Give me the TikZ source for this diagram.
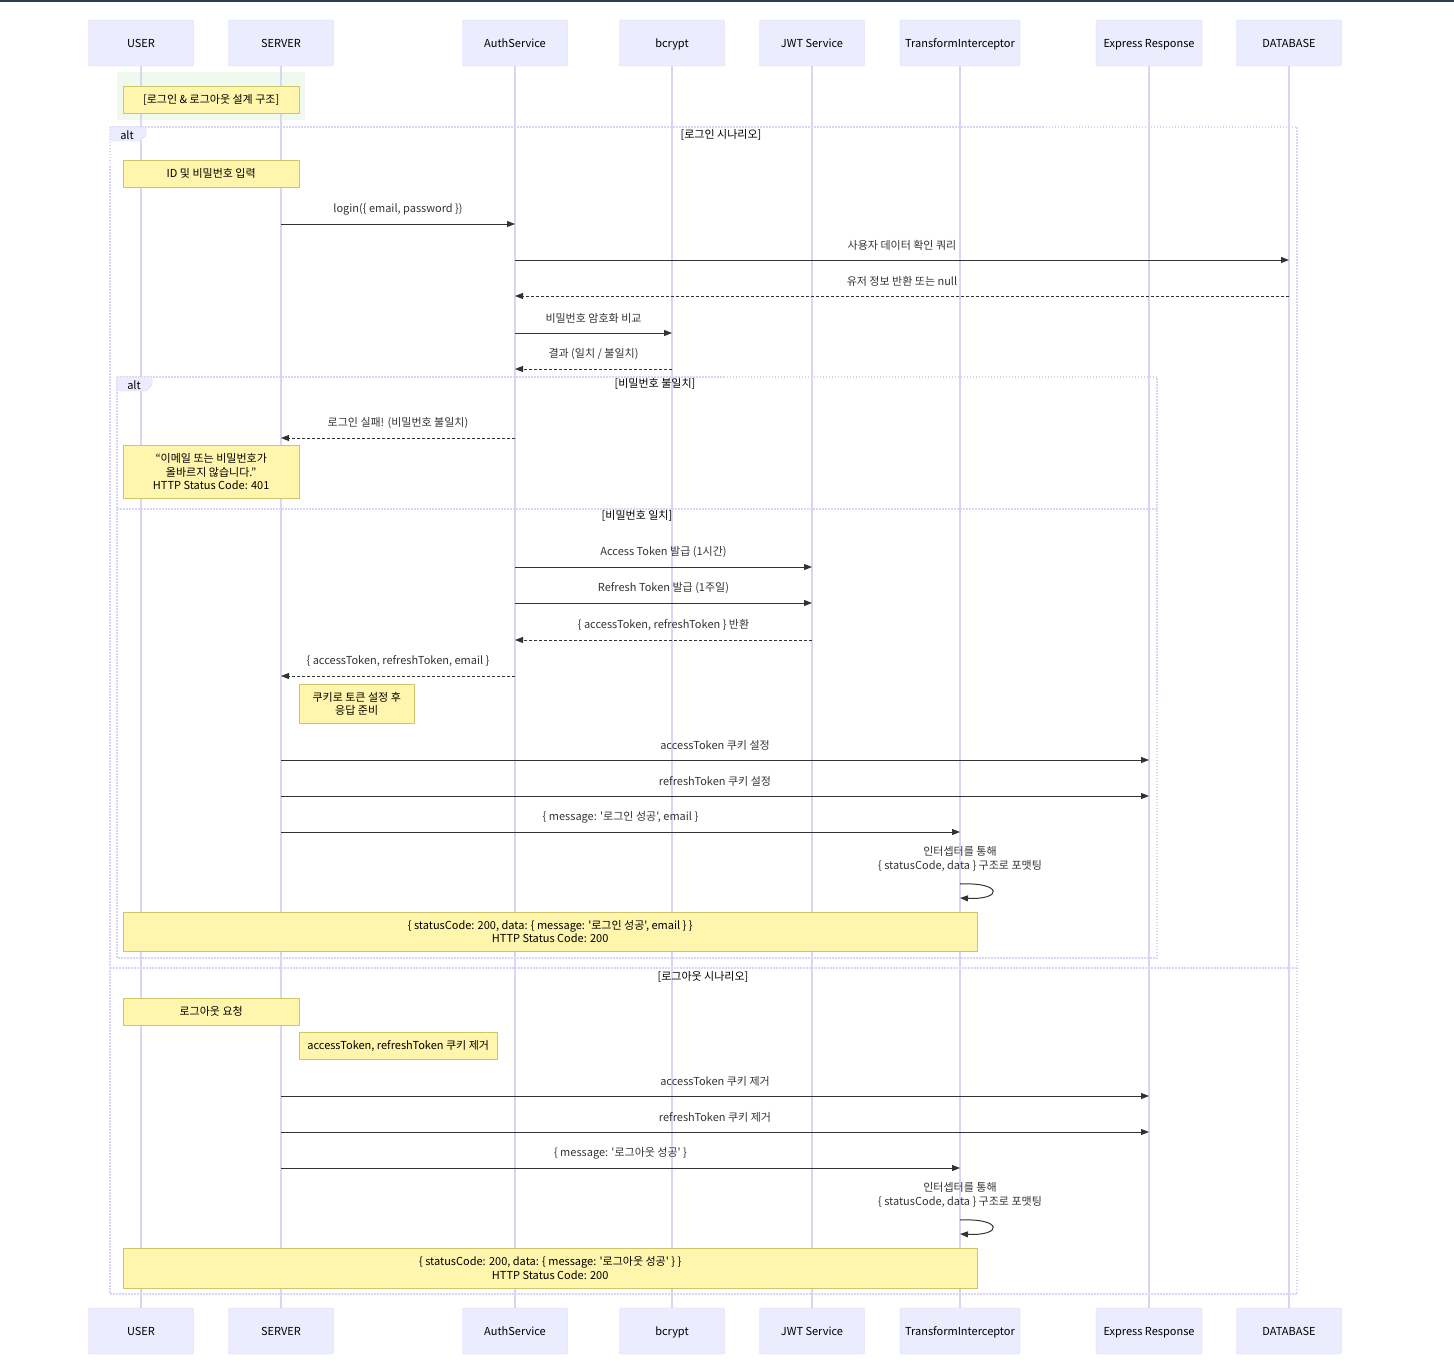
\documentclass[tikz,border=0pt]{standalone}
\usepackage{fontspec}
\setmainfont{Noto Sans CJK KR}[Ligatures=TeXOff]
\usetikzlibrary{arrows.meta}
\definecolor{actfill}{HTML}{ECECFF}
\definecolor{actline}{HTML}{DAD4F6}
\definecolor{notefill}{HTML}{FFF5AD}
\definecolor{noteline}{HTML}{CEC66A}
\definecolor{msgline}{HTML}{333333}
\definecolor{rectfill}{HTML}{F0F9EE}
\definecolor{topbar}{HTML}{2B3F4A}
\newcommand{\txtfont}{\fontsize{11}{13.5}\selectfont}

\tikzset{
  actor/.style={draw=actline, fill=actfill, rounded corners=2pt, minimum height=46pt, inner sep=0pt, text height=10pt, text depth=1pt, text=black, font=\txtfont},
  life/.style={actline, line width=1.3pt},
  frame/.style={actline, line width=1.3pt, dash pattern=on 1.5pt off 1.5pt},
  msg/.style={msgline, line width=1pt, -{Triangle[length=8pt,width=6pt]}},
  reply/.style={msg, dash pattern=on 3pt off 2pt},
  lbl/.style={midway, yshift=15pt, inner sep=0pt, text=msgline, font=\txtfont},
  notebox/.style={draw=noteline, fill=notefill, anchor=north west, inner sep=0pt, align=center, text=black, font=\txtfont},
  title/.style={inner sep=0pt, text=black, font=\txtfont},
}

\begin{document}
\begin{tikzpicture}[x=1pt,y=-1pt]
\useasboundingbox (0,0) rectangle (1454,1370);
\fill[topbar] (0,0) rectangle (1454,2);

\fill[rectfill] (117,72) rectangle (305,120);

% participants, top and bottom
\foreach \nm/\x/\w/\txt in {usr/141/105/USER, srv/281/105/SERVER, auth/515/105/AuthService, bcr/672/105/bcrypt, jwt/812/105/JWT Service, tfi/960/120/TransformInterceptor, exr/1149/106/Express Response, db/1289/105/DATABASE}
{
  \node[actor, minimum width=\w pt] (\nm T) at (\x,43) {\txt};
  \node[actor, minimum width=\w pt] (\nm B) at (\x,1331) {\txt};
}
\foreach \nm in {usr,srv,auth,bcr,jwt,tfi,exr,db}
  \draw[life] (\nm T) -- (\nm B);

% alt frames
\draw[frame] (110,127) rectangle (1297,1294);
\draw[frame] (110,968) -- (1297,968);
\draw[frame] (117,377) rectangle (1157,958);
\draw[frame] (117,509) -- (1157,509);
\draw[actline, fill=actfill] (110,127) -- (146,127) -- (146,135) -- (140,141) -- (110,141) -- cycle;
\node[title] (alt1) at (127,135) {alt};
\draw[actline, fill=actfill] (117,377) -- (152,377) -- (152,385) -- (146,391) -- (117,391) -- cycle;
\node[title] (alt2) at (134,385) {alt};
\node[title] (login) at (721,135) {[로그인 시나리오]};
\node[title] (nomatch) at (655,384) {[비밀번호 불일치]};
\node[title] (match) at (637,516) {[비밀번호 일치]};
\node[title] (logout) at (703,977) {[로그아웃 시나리오]};

% login messages
\draw[msg] (srvT |- 0,224) -- (authT |- 0,224) node[lbl] {login(\{ email, password \})};
\draw[msg] (authT |- 0,260) -- (dbT |- 0,260) node[lbl] {사용자 데이터 확인 쿼리};
\draw[reply] (dbT |- 0,296) -- (authT |- 0,296) node[lbl] {유저 정보 반환 또는 null};
\draw[msg] (authT |- 0,333) -- (bcrT |- 0,333) node[lbl] {비밀번호 암호화 비교};
\draw[reply] (bcrT |- 0,369) -- (authT |- 0,369) node[lbl] {결과 (일치 / 불일치)};
\draw[reply] (authT |- 0,438) -- (srvT |- 0,438) node[lbl] {로그인 실패! (비밀번호 불일치)};
\draw[msg] (authT |- 0,567) -- (jwtT |- 0,567) node[lbl] {Access Token 발급 (1시간)};
\draw[msg] (authT |- 0,603) -- (jwtT |- 0,603) node[lbl] {Refresh Token 발급 (1주일)};
\draw[reply] (jwtT |- 0,640) -- (authT |- 0,640) node[lbl] {\{ accessToken, refreshToken \} 반환};
\draw[reply] (authT |- 0,676) -- (srvT |- 0,676) node[lbl] {\{ accessToken, refreshToken, email \}};
\draw[msg] (srvT |- 0,760) -- (exrT |- 0,760) node[lbl] {accessToken 쿠키 설정};
\draw[msg] (srvT |- 0,796) -- (exrT |- 0,796) node[lbl] {refreshToken 쿠키 설정};
\draw[msg] (srvT |- 0,832) -- (tfiT |- 0,832) node[lbl] {\{ message: '로그인 성공', email \}};
\node[title, align=center, text=msgline] (fmt1) at (960,859) {인터셉터를 통해\\\{ statusCode, data \} 구조로 포맷팅};
\draw[msg] (tfiT |- 0,884) .. controls (1003,882) and (1003,900) .. (tfiT |- 0,898);

% logout messages
\draw[msg] (srvT |- 0,1096) -- (exrT |- 0,1096) node[lbl] {accessToken 쿠키 제거};
\draw[msg] (srvT |- 0,1132) -- (exrT |- 0,1132) node[lbl] {refreshToken 쿠키 제거};
\draw[msg] (srvT |- 0,1168) -- (tfiT |- 0,1168) node[lbl] {\{ message: '로그아웃 성공' \}};
\node[title, align=center, text=msgline] (fmt2) at (960,1195) {인터셉터를 통해\\\{ statusCode, data \} 구조로 포맷팅};
\draw[msg] (tfiT |- 0,1220) .. controls (1003,1218) and (1003,1236) .. (tfiT |- 0,1234);

% notes
\node[notebox, minimum width=176pt, minimum height=27pt] (design) at (123,86) {[로그인 \& 로그아웃 설계 구조]};
\node[notebox, minimum width=176pt, minimum height=27pt] (input) at (123,160) {ID 및 비밀번호 입력};
\node[notebox, minimum width=176pt, minimum height=53pt] (fail) at (123,445) {“이메일 또는 비밀번호가\\올바르지 않습니다.”\\HTTP Status Code: 401};
\node[notebox, minimum width=115pt, minimum height=39pt] (cookie) at (299,684) {쿠키로 토큰 설정 후\\응답 준비};
\node[notebox, minimum width=854pt, minimum height=39pt] (ok1) at (123,912) {\{ statusCode: 200, data: \{ message: '로그인 성공', email \} \}\\HTTP Status Code: 200};
\node[notebox, minimum width=176pt, minimum height=27pt] (req) at (123,998) {로그아웃 요청};
\node[notebox, minimum width=198pt, minimum height=27pt] (clear) at (299,1032) {accessToken, refreshToken 쿠키 제거};
\node[notebox, minimum width=854pt, minimum height=40pt] (ok2) at (123,1248) {\{ statusCode: 200, data: \{ message: '로그아웃 성공' \} \}\\HTTP Status Code: 200};
\end{tikzpicture}
\end{document}
